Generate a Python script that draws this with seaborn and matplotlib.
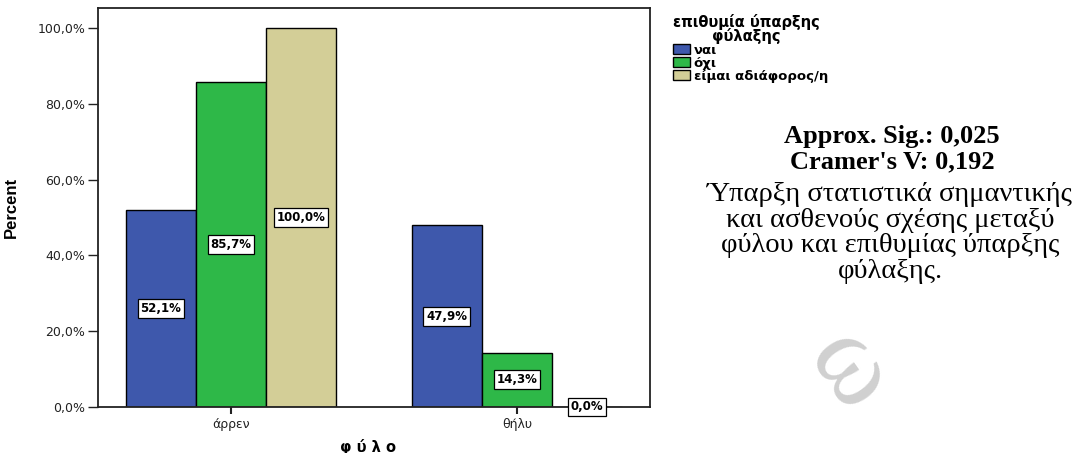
import numpy as np
import pandas as pd
import matplotlib
matplotlib.use("Agg")
import matplotlib.pyplot as plt
import seaborn as sns

# Data
genders = ["άρρεν", "θήλυ"]
answers = ["ναι", "όχι", "είμαι αδιάφορος/η"]
pct_male = [52.1, 85.7, 100.0]
pct_female = [47.9, 14.3, 0.0]
colors = ["#3E58AC", "#2EB848", "#D3CE97"]
yticks = [0, 20, 40, 60, 80, 100]

df = pd.DataFrame({
    "φύλο": [genders[0]] * 3 + [genders[1]] * 3,
    "answer": answers * 2,
    "Percent": pct_male + pct_female,
})

sns.set_theme(style="white")
plt.rcParams["font.family"] = ["DejaVu Sans"]
plt.rcParams["text.color"] = "black"

fig = plt.figure(figsize=(10.85, 4.53), dpi=100)
ax = fig.add_axes([98 / 1085, 1 - 407 / 453, 552 / 1085, 399 / 453])

sns.barplot(data=df, x="φύλο", y="Percent", hue="answer", hue_order=answers,
            palette=colors, width=0.735, gap=0, edgecolor="black", linewidth=1,
            saturation=1, ax=ax)

for cont in ax.containers:
    ax.bar_label(cont, labels=[f"{v:.1f}%".replace(".", ",") for v in cont.datavalues],
                 label_type="center", fontsize=8.5, fontweight="bold", color="black",
                 bbox=dict(boxstyle="square,pad=0.25", fc="white", ec="black", lw=0.9))

ax.set_xlim(-0.465, 1.465)
ax.set_ylim(0, 105.3)
ax.set_yticks(yticks)
ax.set_yticklabels([f"{t:.1f}%".replace(".", ",") for t in yticks], fontsize=9, color="#222222")
ax.tick_params(axis="y", left=True, length=7, width=1, direction="out", pad=2,
               color="#222222")
ax.tick_params(axis="x", bottom=True, length=5, width=1.5, direction="out", labelsize=9,
               labelcolor="#222222", pad=3, color="#222222")
for sp in ax.spines.values():
    sp.set_color("#222222")
    sp.set_linewidth(1.3)

ax.set_ylabel("Percent", family=["Liberation Sans", "DejaVu Sans"], fontsize=12,
              fontweight="bold", color="black")
ax.yaxis.set_label_coords(-0.143, 0.5)
ax.set_xlabel("φ ύ λ ο", fontsize=10.5, fontweight="bold", color="black")
ax.xaxis.set_label_coords(0.49, -0.08)

handles, labels = ax.get_legend_handles_labels()
leg = fig.legend(handles, labels, title="επιθυμία ύπαρξης\nφύλαξης", loc="upper left",
                 bbox_to_anchor=(670 / 1085, 1 - 11 / 453), frameon=False, fontsize=9.5,
                 title_fontsize=10.5, alignment="left", handlelength=1.3, handleheight=0.8,
                 handletextpad=0.3, labelspacing=0.0, borderaxespad=0, borderpad=0.2)
leg.get_title().set_fontweight("bold")
leg.get_title().set_multialignment("center")
leg.get_title().set_linespacing(0.85)
for t in leg.get_texts():
    t.set_fontweight("bold")
if ax.get_legend():
    ax.get_legend().remove()

serif = ["Liberation Serif", "DejaVu Serif"]
fig.text(892 / 1085, 1 - 137 / 453, "Approx. Sig.: 0,025", family=serif, fontsize=19,
         fontweight="bold", ha="center", va="center", color="black")
fig.text(892 / 1085, 1 - 162 / 453, "Cramer's V: 0,192", family=serif, fontsize=19,
         fontweight="bold", ha="center", va="center", color="black")
fig.text(890 / 1085, 1 - 233 / 453,
         "Ύπαρξη στατιστικά σημαντικής\nκαι ασθενούς σχέσης μεταξύ\nφύλου και επιθυμίας ύπαρξης\nφύλαξης.",
         family=serif, fontsize=20.5, ha="center", va="center", linespacing=1.04,
         color="black")

# faint watermark
fig.text(848 / 1085, 1 - 372 / 453, "ω", family=serif, fontsize=80, color="#d0d0d0",
         rotation=-55, ha="center", va="center")

fig.savefig("out.png", dpi=100)
